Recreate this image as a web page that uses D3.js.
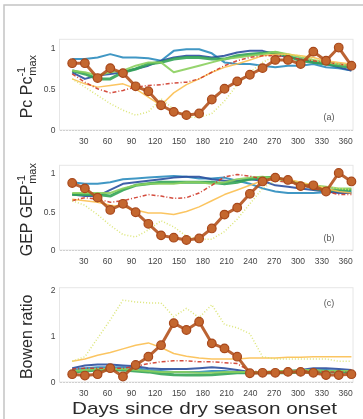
<!DOCTYPE html>
<html>
<head>
<meta charset="utf-8">
<script src="https://cdn.jsdelivr.net/npm/d3@7"></script>
<style>
  body { margin: 0; background: #fff; }
  svg { font-family: "Liberation Sans", Arial, sans-serif; filter: blur(0.35px); }
</style>
</head>
<body>
<div id="chart"></div>
<script>
// Days (16-day composites)
const days = [16, 32, 48, 64, 80, 96, 112, 128, 144, 160, 176, 192, 208, 224, 240, 256, 272, 288, 304, 320, 336, 352, 368];
const xTicks = [30, 60, 90, 120, 150, 180, 210, 240, 270, 300, 330, 360];

// Panel (a) Pc / Pc max
const pcTeal   = [0.86,0.86,0.88,0.92,0.88,0.88,0.87,0.84,0.96,0.98,0.98,0.93,0.82,0.80,0.80,0.78,0.76,0.78,0.78,0.80,0.76,0.75,0.72];
const pcBlue   = [0.70,0.62,0.66,0.68,0.70,0.74,0.78,0.84,0.88,0.90,0.90,0.88,0.90,0.94,0.96,0.96,0.92,0.88,0.86,0.82,0.80,0.76,0.72];
const pcGreen  = [0.72,0.68,0.62,0.62,0.70,0.74,0.80,0.82,0.86,0.88,0.88,0.86,0.86,0.90,0.92,0.93,0.94,0.90,0.84,0.82,0.80,0.78,0.76];
const pcLGreen = [0.72,0.70,0.66,0.70,0.72,0.78,0.82,0.82,0.70,0.74,0.78,0.82,0.86,0.88,0.90,0.92,0.95,0.92,0.88,0.85,0.82,0.80,0.78];
const pcYellow = [0.62,0.56,0.52,0.54,0.56,0.50,0.40,0.30,0.45,0.55,0.62,0.70,0.76,0.80,0.85,0.90,0.92,0.92,0.90,0.88,0.84,0.82,0.80];
const pcRed    = [0.68,0.58,0.50,0.45,0.48,0.52,0.54,0.55,0.57,0.58,0.62,0.70,0.78,0.84,0.88,0.90,0.90,0.88,0.86,0.84,0.82,0.80,0.78];
const pcDotted = [0.62,0.52,0.42,0.32,0.24,0.18,0.22,0.38,0.25,0.16,0.15,0.20,0.35,0.55,0.70,0.82,0.90,0.92,0.90,0.86,0.82,0.80,0.78];
const pcBrown  = [0.81,0.81,0.63,0.75,0.69,0.53,0.47,0.30,0.22,0.18,0.20,0.37,0.50,0.59,0.67,0.75,0.85,0.85,0.80,0.95,0.84,1.00,0.78];

// Panel (b) GEP / GEP max
const gepTeal   = [0.88,0.86,0.86,0.88,0.92,0.93,0.94,0.95,0.96,0.95,0.93,0.93,0.94,0.90,0.86,0.80,0.76,0.74,0.74,0.74,0.75,0.76,0.76];
const gepBlue   = [0.72,0.70,0.70,0.78,0.86,0.88,0.90,0.92,0.94,0.95,0.95,0.92,0.90,0.90,0.92,0.90,0.84,0.82,0.80,0.78,0.76,0.74,0.74];
const gepGreen  = [0.72,0.72,0.72,0.70,0.78,0.84,0.86,0.88,0.88,0.88,0.88,0.88,0.86,0.88,0.92,0.94,0.94,0.90,0.86,0.80,0.78,0.78,0.78];
const gepLGreen = [0.74,0.74,0.74,0.74,0.80,0.84,0.86,0.86,0.86,0.88,0.88,0.86,0.88,0.92,0.94,0.95,0.93,0.90,0.86,0.84,0.82,0.80,0.80];
const gepYellow = [0.66,0.64,0.62,0.58,0.56,0.52,0.48,0.48,0.46,0.50,0.56,0.64,0.72,0.78,0.84,0.90,0.92,0.92,0.88,0.84,0.80,0.76,0.74];
const gepRed    = [0.64,0.68,0.66,0.62,0.64,0.68,0.72,0.70,0.67,0.68,0.74,0.84,0.95,0.98,0.96,0.92,0.90,0.88,0.84,0.80,0.76,0.72,0.72];
const gepDotted = [0.64,0.58,0.46,0.32,0.20,0.17,0.26,0.38,0.30,0.18,0.14,0.14,0.24,0.40,0.60,0.80,0.90,0.90,0.88,0.84,0.82,0.80,0.78];
const gepBrown  = [0.87,0.80,0.68,0.52,0.60,0.49,0.34,0.19,0.16,0.13,0.15,0.28,0.46,0.55,0.73,0.89,0.94,0.91,0.83,0.84,0.76,1.00,0.89];

// Panel (c) Bowen ratio
const brTeal   = [0.26,0.30,0.32,0.32,0.32,0.30,0.26,0.24,0.22,0.22,0.22,0.24,0.24,0.22,0.20,0.20,0.20,0.22,0.24,0.26,0.26,0.24,0.22];
const brBlue   = [0.30,0.36,0.38,0.38,0.36,0.34,0.30,0.28,0.28,0.28,0.30,0.32,0.30,0.26,0.22,0.22,0.22,0.24,0.26,0.30,0.30,0.28,0.26];
const brGreen  = [0.22,0.24,0.26,0.26,0.26,0.24,0.22,0.18,0.16,0.15,0.15,0.16,0.18,0.20,0.20,0.20,0.20,0.20,0.22,0.22,0.22,0.22,0.22];
const brLGreen = [0.24,0.26,0.28,0.28,0.28,0.26,0.24,0.22,0.22,0.22,0.20,0.20,0.22,0.22,0.22,0.22,0.24,0.24,0.26,0.26,0.24,0.24,0.24];
const brYellow = [0.45,0.50,0.58,0.64,0.72,0.80,0.85,0.75,0.62,0.56,0.52,0.50,0.50,0.50,0.52,0.52,0.52,0.54,0.54,0.55,0.55,0.55,0.55];
const brRed    = [0.28,0.30,0.30,0.30,0.30,0.34,0.40,0.44,0.46,0.46,0.44,0.44,0.42,0.40,0.24,0.22,0.22,0.22,0.24,0.24,0.22,0.22,0.22];
const brDotted = [0.45,0.55,0.95,1.35,1.78,1.74,1.72,1.72,1.42,1.60,1.40,1.68,1.25,1.18,1.05,0.55,0.50,0.50,0.50,0.50,0.50,0.45,0.45];
const brBrown  = [0.17,0.14,0.17,0.30,0.12,0.37,0.55,0.80,1.28,1.13,1.31,0.84,0.73,0.55,0.19,0.20,0.20,0.22,0.22,0.20,0.15,0.15,0.17];

// line styles, drawn in this order
const styles = [
  { key: "teal",   color: "#2b8cbe", w: 2 },
  { key: "blue",   color: "#2b4f9e", w: 2 },
  { key: "green",  color: "#33a457", w: 3 },
  { key: "lgreen", color: "#8bcf5e", w: 2 },
  { key: "yellow", color: "#fbbf50", w: 1.5 },
  { key: "red",    color: "#cf3a2a", w: 1.5, dash: "4,2,1,2" },
  { key: "dotted", color: "#d8e36a", w: 1.5, dash: "1,2" },
  { key: "brown",  color: "#b4521d", w: 3, marker: true }
];

const width = 363, height = 419;
const svg = d3.select("#chart").append("svg")
  .attr("width", width)
  .attr("height", height);

// outer frame
svg.append("rect")
  .attr("x", 4).attr("y", 5)
  .attr("width", 400).attr("height", 500)
  .attr("fill", "none")
  .attr("stroke", "#c4c4c4")
  .attr("stroke-width", 1.5);

const x = d3.scaleLinear().domain([0, 370]).range([59.5, 353]);

const panels = [
  { top: 39.3, bottom: 130, max: 1.1, ticks: [0, 0.5, 1], tag: "(a)", tagY: 118,
    label: ["Pc Pc", "-1", "max"],
    series: { teal: pcTeal, blue: pcBlue, green: pcGreen, lgreen: pcLGreen, yellow: pcYellow, red: pcRed, dotted: pcDotted, brown: pcBrown } },
  { top: 165.3, bottom: 250, max: 1.1, ticks: [0, 0.5, 1], tag: "(b)", tagY: 239,
    label: ["GEP GEP", "-1", "max"],
    series: { teal: gepTeal, blue: gepBlue, green: gepGreen, lgreen: gepLGreen, yellow: gepYellow, red: gepRed, dotted: gepDotted, brown: gepBrown } },
  { top: 287.7, bottom: 382, max: 2.05, ticks: [0, 1, 2], tag: "(c)", tagY: 304,
    label: ["Bowen ratio"],
    series: { teal: brTeal, blue: brBlue, green: brGreen, lgreen: brLGreen, yellow: brYellow, red: brRed, dotted: brDotted, brown: brBrown } }
];

panels.forEach((p) => {
  const y = d3.scaleLinear().domain([0, p.max]).range([p.bottom, p.top]);
  const g = svg.append("g");

  // plot box
  g.append("rect")
    .attr("x", x.range()[0]).attr("y", p.top)
    .attr("width", x.range()[1] - x.range()[0])
    .attr("height", p.bottom - p.top)
    .attr("fill", "none")
    .attr("stroke", "#e6e6e6");

  // axes
  const xAxis = d3.axisBottom(x).tickValues(xTicks).tickSize(0).tickPadding(8);
  g.append("g")
    .attr("transform", `translate(0,${p.bottom})`)
    .call(xAxis)
    .call((s) => s.select(".domain").attr("stroke", "#d0d0d0").attr("stroke-dasharray", "2,1"))
    .call((s) => s.selectAll("text").attr("font-size", 8.5).attr("fill", "#444").attr("font-family", "Liberation Sans, Arial, sans-serif"));

  const yAxis = d3.axisLeft(y).tickValues(p.ticks).tickSize(0).tickPadding(4).tickFormat(d3.format("~g"));
  g.append("g")
    .attr("transform", `translate(${x.range()[0]},0)`)
    .call(yAxis)
    .call((s) => s.select(".domain").remove())
    .call((s) => s.selectAll("text").attr("font-size", 8.5).attr("fill", "#444").attr("font-family", "Liberation Sans, Arial, sans-serif"));

  // lines
  const line = d3.line().x((d, i) => x(days[i])).y((d) => y(d));
  styles.forEach((st) => {
    const vals = p.series[st.key];
    g.append("path")
      .datum(vals)
      .attr("d", line)
      .attr("fill", "none")
      .attr("stroke", st.color)
      .attr("stroke-width", st.w)
      .attr("stroke-linejoin", "round")
      .attr("stroke-dasharray", st.dash || null)
      .attr("opacity", 0.9);
    if (st.marker) {
      g.selectAll(null)
        .data(vals)
        .enter()
        .append("circle")
        .attr("cx", (d, i) => x(days[i]))
        .attr("cy", (d) => y(d))
        .attr("r", 4.3)
        .attr("fill", "#c4672f")
        .attr("stroke", "#a8481b")
        .attr("stroke-width", 1.2);
    }
  });

  // panel tag
  g.append("text")
    .attr("x", 329).attr("y", p.tagY)
    .attr("text-anchor", "middle")
    .attr("dominant-baseline", "middle")
    .attr("font-size", 9)
    .attr("fill", "#555")
    .text(p.tag);

  // y label
  const cy = (p.top + p.bottom) / 2 + 2;
  const lab = g.append("text")
    .attr("transform", `translate(32,${cy}) rotate(-90)`)
    .attr("text-anchor", "middle")
    .attr("font-size", 16)
    .attr("fill", "#2a2a2a");
  lab.append("tspan").text(p.label[0]);
  if (p.label.length > 1) {
    lab.append("tspan").attr("dy", -7).attr("font-size", 11).text(p.label[1]);
    lab.append("tspan").attr("dy", 11).attr("dx", -9).attr("font-size", 11).text(p.label[2]);
  }
});

svg.append("text")
  .attr("x", 72).attr("y", 414)
  .attr("textLength", 265)
  .attr("lengthAdjust", "spacingAndGlyphs")
  .attr("font-size", 17)
  .attr("fill", "#2a2a2a")
  .text("Days since dry season onset");
</script>
</body>
</html>
